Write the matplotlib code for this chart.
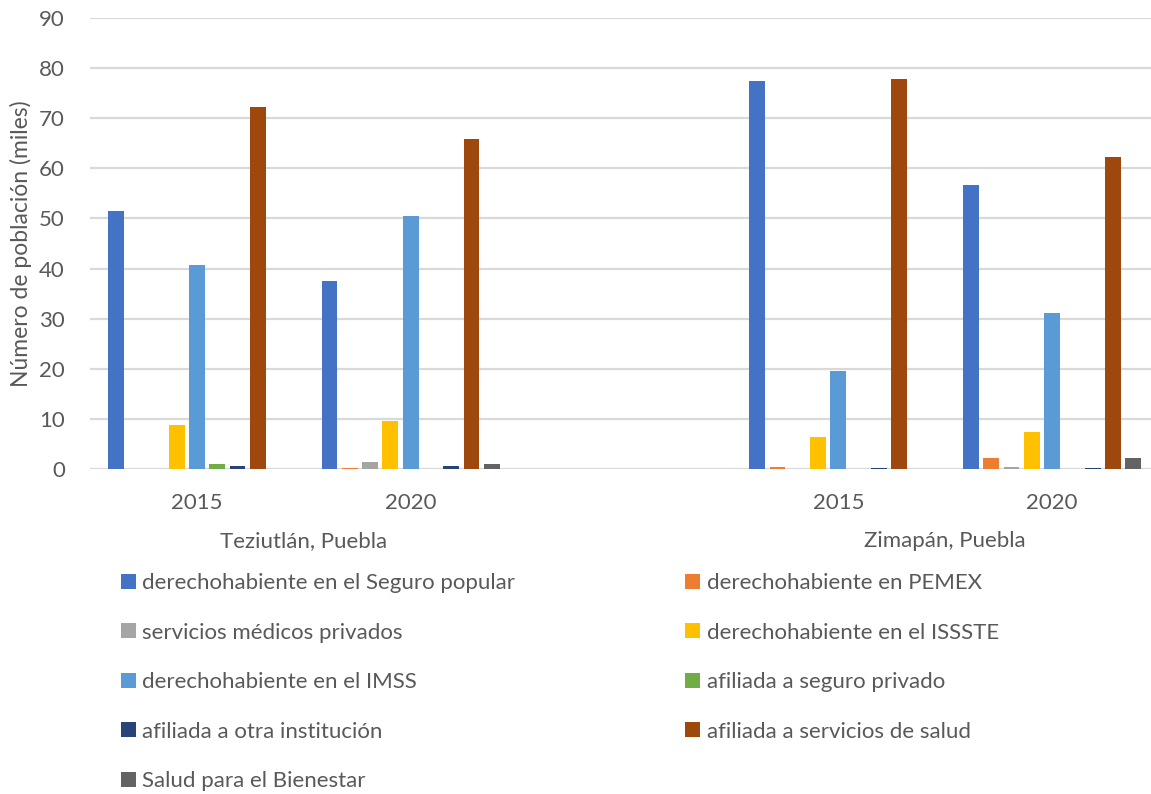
import numpy as np
import matplotlib
matplotlib.use('Agg')
import matplotlib.pyplot as plt

plt.rcParams['font.family'] = ['Lato', 'DejaVu Sans']

# data (miles de personas)
years = ['2015', '2020', '', '2015', '2020']
cities = ['Teziutlán, Puebla', 'Zimapán, Puebla']
series = ['derechohabiente en el Seguro popular', 'derechohabiente en PEMEX',
          'servicios médicos privados', 'derechohabiente en el ISSSTE',
          'derechohabiente en el IMSS', 'afiliada a seguro privado',
          'afiliada a otra institución', 'afiliada a servicios de salud',
          'Salud para el Bienestar']
seguro_popular = [51.4, 37.5, 0, 77.4, 56.7]
pemex = [0, 0.2, 0, 0.4, 2.1]
privados = [0, 1.4, 0, 0, 0.45]
issste = [8.8, 9.6, 0, 6.4, 7.3]
imss = [40.7, 50.4, 0, 19.6, 31.1]
seguro_privado = [0.9, 0, 0, 0, 0]
otra = [0.6, 0.6, 0, 0.2, 0.2]
servicios_salud = [72.2, 65.9, 0, 77.9, 62.3]
bienestar = [0, 0.9, 0, 0, 2.1]
values = [seguro_popular, pemex, privados, issste, imss,
          seguro_privado, otra, servicios_salud, bienestar]
colors = ['#4472C4', '#ED7D31', '#A5A5A5', '#FFC000', '#5B9BD5',
          '#70AD47', '#264478', '#9E480E', '#636363']

txt = '#595959'
fs = 16
fig = plt.figure(figsize=(11.51, 7.94), dpi=100)
ax = fig.add_axes([90/1151, 1-469/794, 1069/1151, 451/794])

x = np.arange(len(years))
step = 0.0949
handles = []
for i, (v, c) in enumerate(zip(values, colors)):
    h = ax.bar(x + (i-4)*step, v, width=0.074, color=c, label=series[i], zorder=3)
    handles.append(h)

ax.set_xlim(-0.5, 4.5)
ax.set_ylim(0, 90)
ax.set_yticks(np.arange(0, 91, 10))
ax.set_xticks(x)
ax.set_xticklabels(years)
ax.tick_params(length=0, labelsize=fs, colors=txt)
ax.tick_params(axis='x', pad=17)
ax.tick_params(axis='y', pad=18)
ax.yaxis.grid(True, color='#d9d9d9', linewidth=1.6, zorder=0)
for s in ax.spines.values():
    s.set_visible(False)
ax.set_ylabel('Número de población (miles)', fontsize=16.5, color=txt, labelpad=5)

for cx, name in zip([0.5, 3.5], cities):
    ax.text(cx, -0.16, name, transform=ax.get_xaxis_transform(), ha='center', va='center',
            fontsize=fs, color=txt)

order = [0, 2, 4, 6, 8, 1, 3, 5, 7]
leg = fig.legend([handles[k] for k in order], [series[k] for k in order], ncol=2,
                 loc='upper left', bbox_to_anchor=(101/1151, 1-553/794), frameon=False,
                 fontsize=fs, handlelength=0.66, handleheight=0.66, handletextpad=0.3,
                 labelspacing=1.33, columnspacing=7.65, labelcolor=txt)

fig.savefig('out.png', dpi=100)
